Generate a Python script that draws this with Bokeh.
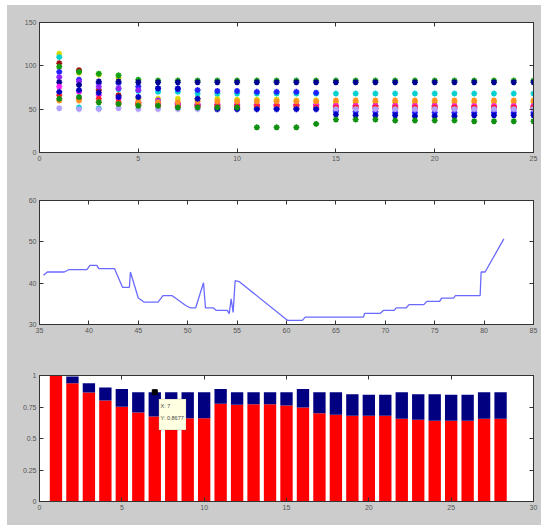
from bokeh.plotting import figure
from bokeh.layouts import column
from bokeh.models import (FixedTicker, LinearAxis, Range1d, ColumnDataSource,
                          Label, BoxAnnotation)
from bokeh.embed import file_html
from bokeh.resources import INLINE

# ---------------- top panel: per-series values at each sample ----------------
samples = list(range(1, 26))
series_colors = ["#d8d800", "#00d0d0", "#a01010", "#10a010", "#2020ff", "#9020ff",
                 "#000090", "#ff20ff", "#ff2020", "#ff9020", "#b0a0ff", "#0000c0",
                 "#109010"]
s_yellow = [114, 92, 90, 86, 62, 62, 62, 62, 62, 61, 61, 61, 60, 60, 58, 58, 58, 58, 58, 58, 58, 58, 58, 58, 58]
s_cyan = [110, 52, 51, 73, 71, 70, 70, 68, 68, 68, 68, 68, 68, 68, 68, 68, 68, 68, 68, 68, 68, 68, 68, 68, 68]
s_darkred = [103, 95, 72, 66, 57, 56, 56, 55, 55, 55, 55, 55, 55, 55, 54, 54, 54, 54, 54, 54, 53, 53, 53, 53, 53]
s_green = [99, 93, 91, 89, 84, 83, 83, 83, 83, 83, 83, 83, 83, 83, 83, 83, 83, 83, 83, 83, 83, 83, 83, 83, 83]
s_blue = [93, 84, 80, 80, 76, 74, 73, 72, 71, 71, 70, 70, 70, 69, 48, 47, 47, 46, 46, 46, 46, 46, 46, 46, 46]
s_purple = [87, 82, 76, 74, 72, 60, 56, 54, 52, 51, 51, 51, 51, 51, 51, 51, 50, 50, 50, 50, 50, 50, 50, 50, 50]
s_navy = [81, 78, 82, 82, 81, 81, 81, 81, 81, 81, 81, 81, 81, 81, 81, 81, 81, 81, 81, 81, 81, 81, 81, 81, 81]
s_magenta = [76, 70, 66, 62, 58, 57, 57, 56, 56, 56, 55, 55, 55, 55, 54, 54, 54, 54, 54, 54, 54, 54, 54, 54, 54]
s_red = [66, 62, 62, 58, 55, 54, 53, 53, 53, 53, 53, 53, 53, 52, 52, 52, 52, 52, 52, 52, 52, 52, 52, 52, 52]
s_orange = [60, 60, 58, 56, 58, 58, 58, 59, 59, 59, 59, 59, 59, 59, 60, 60, 60, 60, 60, 60, 60, 60, 60, 60, 60]
s_lavender = [51, 50, 50, 51, 50, 50, 50, 50, 50, 50, 50, 50, 50, 50, 50, 50, 50, 50, 50, 50, 50, 50, 50, 50, 50]
s_blue2 = [70, 72, 69, 64, 64, 74, 74, 62, 50, 50, 50, 50, 50, 50, 44, 43, 43, 43, 42, 42, 42, 43, 43, 43, 43]
s_green2 = [62, 64, 58, 56, 54, 54, 52, 52, 52, 52, 29, 29, 29, 33, 38, 38, 38, 37, 37, 37, 37, 36, 36, 36, 36]
top_series = [s_yellow, s_cyan, s_darkred, s_green, s_blue, s_purple, s_navy,
              s_magenta, s_red, s_orange, s_lavender, s_blue2, s_green2]
top_xticks = [0, 5, 10, 15, 20, 25]
top_yticks = [0, 50, 100, 150]

# ---------------- middle panel: trace ----------------
trace_x = [35.4, 35.8, 37.5, 38.0, 39.8, 40.1, 40.8, 41.0, 42.6, 43.4, 44.1, 44.2,
           45.0, 45.6, 47.0, 47.5, 48.4, 49.8, 50.3, 50.8, 51.6, 51.8, 52.6, 52.9,
           54.0, 54.2, 54.4, 54.6, 54.8, 55.2, 59.9, 60.1, 61.6, 61.9, 67.8, 67.9,
           69.5, 69.8, 70.9, 71.1, 72.1, 72.4, 73.9, 74.2, 75.5, 75.7, 76.9, 77.1,
           79.6, 79.7, 80.1, 82.0]
trace_y = [41.9, 42.7, 42.7, 43.3, 43.3, 44.3, 44.3, 43.5, 43.5, 39.0, 39.0, 42.7,
           36.4, 35.4, 35.4, 37.0, 37.0, 34.6, 34.0, 34.0, 40.1, 34.0, 34.0, 33.4,
           33.4, 32.6, 36.2, 32.9, 40.6, 40.4, 31.4, 31.0, 31.0, 31.8, 31.8, 32.7,
           32.7, 33.4, 33.4, 34.0, 34.0, 34.8, 34.8, 35.6, 35.6, 36.4, 36.4, 37.0,
           37.0, 42.7, 42.7, 50.7]
mid_xticks = [35, 40, 45, 50, 55, 60, 65, 70, 75, 80, 85]
mid_yticks = [30, 40, 50, 60]

# ---------------- bottom panel: stacked shares ----------------
bar_idx = list(range(1, 29))
red_share = [1.0, 0.939, 0.865, 0.802, 0.751, 0.706, 0.675, 0.661, 0.661, 0.661,
             0.775, 0.767, 0.772, 0.772, 0.762, 0.746, 0.701, 0.688, 0.680, 0.680,
             0.680, 0.656, 0.648, 0.640, 0.640, 0.640, 0.656, 0.656]
total_share = [1.0, 0.992, 0.939, 0.905, 0.892, 0.868, 0.8677, 0.868, 0.868, 0.868,
               0.892, 0.868, 0.868, 0.868, 0.868, 0.892, 0.868, 0.868, 0.852, 0.847,
               0.847, 0.868, 0.852, 0.852, 0.847, 0.847, 0.868, 0.868]
bot_xticks = [0, 5, 10, 15, 20, 25, 30]
bot_yticks = [0, 0.25, 0.5, 0.75, 1]
bot_ylabels = ["0", "0.25", "0.5", "0.75", "1"]
tip_x = 7
tip_y = 0.8677

FIG_GRAY = "#cccccc"
AX_COLOR = "#333333"
LBL_COLOR = "#555555"


def make_fig(xr, yr, top, bottom, height):
    p = figure(width=534, height=height, x_range=Range1d(*xr), y_range=Range1d(*yr),
               output_backend="svg", toolbar_location=None,
               min_border_left=32, min_border_right=8,
               min_border_top=top, min_border_bottom=bottom,
               background_fill_color="white", border_fill_color=FIG_GRAY,
               outline_line_color=AX_COLOR,
               styles={"background-color": FIG_GRAY})
    p.xgrid.visible = False
    p.ygrid.visible = False
    return p


def style_axes(p, xticks, yticks, ylabels=None):
    p.add_layout(LinearAxis(), "right")
    p.add_layout(LinearAxis(), "above")
    for ax in p.xaxis:
        ax.ticker = FixedTicker(ticks=xticks)
    for ax in p.yaxis:
        ax.ticker = FixedTicker(ticks=yticks)
    for ax in p.xaxis + p.yaxis:
        ax.axis_line_color = AX_COLOR
        ax.major_tick_line_color = AX_COLOR
        ax.major_tick_in = 4
        ax.major_tick_out = 0
        ax.minor_tick_line_color = None
        ax.major_label_text_font_size = "7px"
        ax.major_label_text_color = LBL_COLOR
        ax.major_label_text_font = "Liberation Sans"
        ax.major_label_standoff = 3
    # the box edges carry tick marks only
    p.right[0].major_label_overrides = {t: "" for t in yticks}
    p.above[0].major_label_overrides = {t: "" for t in xticks}
    p.right[0].major_label_standoff = 0
    p.above[0].major_label_standoff = 0
    if ylabels is not None:
        p.left[0].major_label_overrides = {t: s for t, s in zip(yticks, ylabels)}


# top scatter
p1 = make_fig((0, 25), (0, 150), 17, 23, 170)
for vals, col in zip(top_series, series_colors):
    p1.scatter(samples, vals, marker="asterisk", size=6, line_width=1.6,
               line_color=col, fill_color=col)
style_axes(p1, top_xticks, top_yticks)

# middle trace
p2 = make_fig((35, 85), (30, 60), 25, 26, 175)
p2.line(trace_x, trace_y, line_color="#6a6aff", line_width=1.3)
style_axes(p2, mid_xticks, mid_yticks)

# bottom stacked bars
blue_share = [t - r for t, r in zip(total_share, red_share)]
src = ColumnDataSource(dict(x=bar_idx, red=red_share, blue=blue_share))
p3 = make_fig((0, 30), (0, 1), 25, 24, 175)
p3.vbar_stack(["red", "blue"], x="x", width=0.75, source=src,
              color=["#ff0000", "#000080"], line_color=None)
style_axes(p3, bot_xticks, bot_yticks, bot_ylabels)

# data tip on bar 7
p3.add_layout(BoxAnnotation(left=tip_x + 0.25, right=tip_x + 1.9,
                            top=tip_y - 0.055, bottom=tip_y - 0.3,
                            fill_color="#ffffe1", fill_alpha=1.0,
                            line_color="#333333", line_width=0.6))
p3.scatter([tip_x], [tip_y], marker="square", size=5, color="black")
p3.add_layout(Label(x=tip_x + 0.35, y=tip_y - 0.13, text="X: 7",
                    text_font_size="5.5px", text_color="#444444"))
p3.add_layout(Label(x=tip_x + 0.35, y=tip_y - 0.23, text="Y: 0.8677",
                    text_font_size="5.5px", text_color="#444444"))

layout = column(p1, p2, p3, margin=(5, 0, 0, 7), spacing=0,
                styles={"background-color": FIG_GRAY})
open("out.html", "w").write(file_html(layout, INLINE))
